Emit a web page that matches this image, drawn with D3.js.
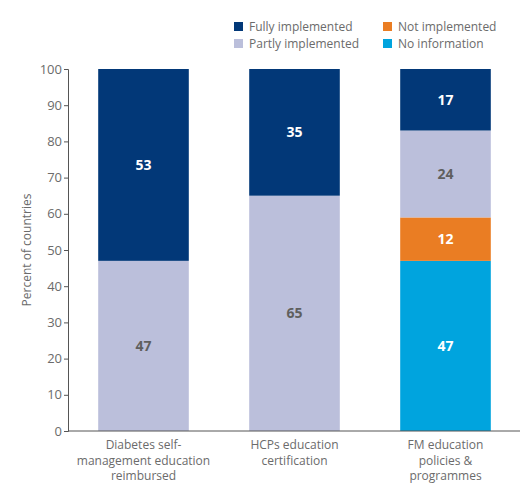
<!DOCTYPE html>
<html>
<head>
<meta charset="utf-8">
<script src="https://cdn.jsdelivr.net/npm/d3@7"></script>
<style>
  body { margin: 0; background: #fff; }
  svg { display: block; font-family: "Open Sans", "DejaVu Sans", sans-serif; }
</style>
</head>
<body>
<div id="chart"></div>
<script>
// chart data
const categories = [
  ["Diabetes self-", "management education", "reimbursed"],
  ["HCPs education", "certification"],
  ["FM education", "policies &", "programmes"]
];
const noInformation = [0, 0, 47];
const notImplemented = [0, 0, 12];
const partlyImplemented = [47, 65, 24];
const fullyImplemented = [53, 35, 17];
const yTicks = [0, 10, 20, 30, 40, 50, 60, 70, 80, 90, 100];

const width = 526;
const height = 484;
const margin = { top: 69, right: 6, bottom: 53, left: 68 };

const series = [
  { key: "No information", values: noInformation, color: "#00a4de", text: "#fff" },
  { key: "Not implemented", values: notImplemented, color: "#ea7d23", text: "#fff" },
  { key: "Partly implemented", values: partlyImplemented, color: "#bbbfdb", text: "#5f5f5f" },
  { key: "Fully implemented", values: fullyImplemented, color: "#023878", text: "#fff" }
];

const svg = d3.select("#chart").append("svg")
  .attr("width", width)
  .attr("height", height);

const x = d3.scaleBand()
  .domain(d3.range(categories.length))
  .range([margin.left, width - margin.right + 1])
  .paddingInner(0.4)
  .paddingOuter(0.2);

const y = d3.scaleLinear()
  .domain([0, 100])
  .range([height - margin.bottom, margin.top]);

// stack segments bottom-up
const stacked = categories.map((c, i) => {
  let base = 0;
  return series.map(s => {
    const seg = { i, y0: base, y1: base + s.values[i], v: s.values[i], s };
    base += s.values[i];
    return seg;
  }).filter(d => d.v > 0);
});

const bars = svg.append("g");
stacked.forEach(segs => {
  bars.selectAll(null)
    .data(segs)
    .enter().append("rect")
    .attr("x", d => x(d.i))
    .attr("width", x.bandwidth())
    .attr("y", d => y(d.y1))
    .attr("height", d => y(d.y0) - y(d.y1))
    .attr("fill", d => d.s.color);

  bars.selectAll(null)
    .data(segs)
    .enter().append("text")
    .attr("x", d => x(d.i) + x.bandwidth() / 2)
    .attr("y", d => y((d.y0 + d.y1) / 2))
    .attr("dy", "0.36em")
    .attr("text-anchor", "middle")
    .attr("font-size", 14)
    .attr("font-weight", "bold")
    .attr("fill", d => d.s.text)
    .text(d => d.v);
});

// y axis
const yAxis = svg.append("g")
  .attr("transform", `translate(${margin.left},0)`)
  .call(d3.axisLeft(y).tickValues(yTicks).tickSize(4).tickSizeOuter(4).tickPadding(2));
yAxis.select(".domain").attr("stroke", "#555");
yAxis.selectAll(".tick line").attr("stroke", "#555");
yAxis.selectAll(".tick text")
  .attr("fill", "#6b6b6b")
  .attr("font-size", 13)
  .attr("font-family", "\"Open Sans\", sans-serif");

// x axis line
const xAxis = svg.append("g")
  .attr("transform", `translate(0,${height - margin.bottom})`)
  .call(d3.axisBottom(x).tickSize(0).tickFormat(""));
xAxis.select(".domain").attr("stroke", "#555").attr("d", `M${margin.left},0H${width - margin.right}`);

// category labels
categories.forEach((lines, i) => {
  const t = svg.append("text")
    .attr("x", x(i) + x.bandwidth() / 2)
    .attr("y", height - margin.bottom + 18)
    .attr("text-anchor", "middle")
    .attr("font-size", 12)
    .attr("fill", "#6b6b6b");
  lines.forEach((line, k) => {
    t.append("tspan")
      .attr("x", x(i) + x.bandwidth() / 2)
      .attr("dy", k === 0 ? 0 : 15.5)
      .text(line);
  });
});

// y title
svg.append("text")
  .attr("transform", `translate(31,${(y(0) + y(100)) / 2}) rotate(-90)`)
  .attr("text-anchor", "middle")
  .attr("font-size", 12)
  .attr("fill", "#6b6b6b")
  .text("Percent of countries");

// legend
const legendItems = [series[3], series[1], series[2], series[0]];
const legend = svg.append("g");
legendItems.forEach((s, k) => {
  const col = k % 2, row = Math.floor(k / 2);
  const lx = 234 + col * 149, ly = 22 + row * 17;
  legend.append("rect")
    .attr("x", lx).attr("y", ly)
    .attr("width", 9).attr("height", 9)
    .attr("fill", s.color);
  legend.append("text")
    .attr("x", lx + 15).attr("y", ly + 4.5)
    .attr("dy", "0.36em")
    .attr("font-size", 12)
    .attr("fill", "#6b6b6b")
    .text(s.key);
});
</script>
</body>
</html>
